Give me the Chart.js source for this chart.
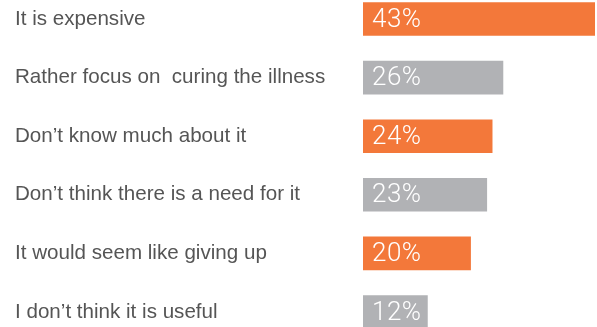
<!DOCTYPE html>
<html>
<head>
<meta charset="utf-8">
<script src="https://cdn.jsdelivr.net/npm/chart.js@4"></script>
<style>
	html, body { margin: 0; padding: 0; background: #fff; }
	#wrap { width: 597px; height: 327px; position: relative; }
</style>
</head>
<body>
<div id="wrap"><canvas id="reasons"></canvas></div>
<script>
// Reasons and their shares (%)
const reasons = [
	"It is expensive",
	"Rather focus on  curing the illness",
	"Don\u2019t know much about it",
	"Don\u2019t think there is a need for it",
	"It would seem like giving up",
	"I don\u2019t think it is useful"
];
const shares = [43, 26, 24, 23, 20, 12];

const orange = '#F3783A';
const grey = '#B1B2B5';
const barColours = reasons.map((r, i) => i % 2 === 0 ? orange : grey);

// Writes each value inside its bar, near the left edge
const valueLabels = {
	id: 'valueLabels',
	afterDatasetsDraw(chart) {
		const ctx = chart.ctx;
		const meta = chart.getDatasetMeta(0);
		ctx.save();
		ctx.fillStyle = '#ffffff';
		ctx.font = '300 26px Roboto';
		ctx.letterSpacing = '0.5px';
		ctx.textAlign = 'left';
		ctx.textBaseline = 'middle';
		meta.data.forEach((bar, i) => {
			ctx.fillText(shares[i] + '%', bar.base + 9, bar.y + 1);
		});
		ctx.restore();
	}
};

const context = document.getElementById("reasons").getContext("2d");

new Chart(context, {
	type: 'bar',
	data: {
		labels: reasons,
		datasets: [{
			data: shares,
			backgroundColor: barColours,
			borderWidth: 0,
			clip: false,
			categoryPercentage: 1,
			barPercentage: 0.573
		}]
	},
	options: {
		indexAxis: 'y',
		responsive: true,
		maintainAspectRatio: false,
		animation: false,
		layout: {
			padding: { left: 15, right: 2, top: 19, bottom: 15 }
		},
		plugins: {
			legend: { display: false },
			tooltip: { enabled: false }
		},
		scales: {
			x: {
				display: false,
				min: 0,
				max: 43
			},
			y: {
				offset: false,
				grid: { display: false },
				border: { display: false },
				ticks: {
					crossAlign: 'far',
					color: '#555555',
					padding: 0,
					font: { family: 'Liberation Sans', size: 20.6 }
				},
				afterFit(scale) {
					scale.width = 348;
				}
			}
		}
	},
	plugins: [valueLabels]
});
</script>
</body>
</html>
